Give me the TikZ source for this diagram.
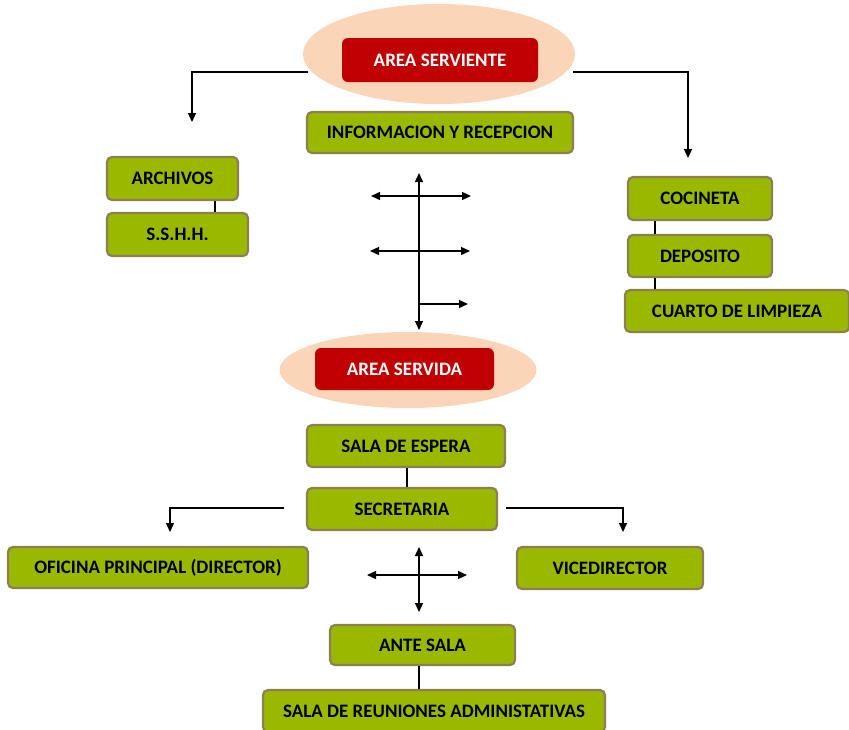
\documentclass[tikz,border=0pt]{standalone}
\usepackage{fontspec}
\setmainfont{Carlito}
\usetikzlibrary{arrows.meta,shapes.geometric}
\definecolor{leaf}{HTML}{9BB800}
\definecolor{leafedge}{HTML}{8C7F52}
\definecolor{zone}{HTML}{C00000}
\definecolor{halo}{HTML}{FBD5B7}
\tikzset{
  room/.style={draw=leafedge, line width=2.2pt, fill=leaf, rounded corners=5pt,
    inner sep=0pt, font=\fontsize{19}{19}\selectfont\bfseries, text=black},
  zonebox/.style={fill=zone, rounded corners=6pt, inner sep=0pt,
    font=\fontsize{19}{19}\selectfont\bfseries, text=white},
  haloshape/.style={ellipse, fill=halo, inner sep=0pt},
  flow/.style={line width=1.3pt, -{Triangle[width=8pt,length=9pt]}},
  link/.style={line width=1.3pt},
  both/.style={line width=1.3pt, {Triangle[width=8pt,length=9pt]}-{Triangle[width=8pt,length=9pt]}}
}
\begin{document}
\begin{tikzpicture}[x=1pt,y=-1pt]
\useasboundingbox (0,0) rectangle (849,729);

% upper zone
\node[haloshape, minimum width=272pt, minimum height=100pt] (serv) at (439,54) {};
\node[zonebox, minimum width=196pt, minimum height=44pt] (servR) at (440,60) {AREA SERVIENTE};
\node[room, minimum width=266pt, minimum height=41pt] (info) at (440,132.5) {INFORMACION Y RECEPCION};

\node[room, minimum width=131pt, minimum height=43pt] (arch) at (172.5,178.5) {ARCHIVOS};
\node[room, minimum width=141pt, minimum height=43pt] (sshh) at (177.5,234.5) {S.S.H.H.};

\node[room, minimum width=144pt, minimum height=43pt] (coc) at (700,198.5) {COCINETA};
\node[room, minimum width=144pt, minimum height=42pt] (dep) at (700,256) {DEPOSITO};
\node[room, minimum width=224pt, minimum height=42pt] (limp) at (737,311) {CUARTO DE LIMPIEZA};

% branches out of the upper zone
\coordinate (sl) at (308,72);
\coordinate (slend) at (192,122);
\coordinate (sr) at (573,72);
\coordinate (srend) at (688,158);
\draw[flow] (sl) -| (slend);
\draw[flow] (sr) -| (srend);

\draw[link] (arch.south -| 215,0) -- (sshh.north -| 215,0);
\draw[link] (coc.south -| 655,0) -- (dep.north -| 655,0);
\draw[link] (dep.south -| 655,0) -- (limp.north -| 655,0);

% circulation cross
\coordinate (vt) at (419,173);
\coordinate (vb) at (419,330);
\coordinate (h1l) at (371,196);
\coordinate (h1r) at (471,196);
\coordinate (h2l) at (370,251);
\coordinate (h2r) at (470,251);
\coordinate (h3l) at (419,304);
\coordinate (h3r) at (468,304);
\draw[both] (vt) -- (vb);
\draw[both] (h1l) -- (h1r);
\draw[both] (h2l) -- (h2r);
\draw[flow] (h3l) -- (h3r);

% lower zone
\node[haloshape, minimum width=257pt, minimum height=76pt] (servida) at (408,370) {};
\node[zonebox, minimum width=179pt, minimum height=42pt] (servidaR) at (404.5,369) {AREA SERVIDA};
\node[room, minimum width=198pt, minimum height=42pt] (esp) at (406,446) {SALA DE ESPERA};
\node[room, minimum width=190pt, minimum height=42pt] (sec) at (402,509) {SECRETARIA};
\draw[link] (esp.south -| 407,0) -- (sec.north -| 407,0);

\node[room, minimum width=300pt, minimum height=41pt] (ofi) at (158,567.5) {OFICINA PRINCIPAL (DIRECTOR)};
\node[room, minimum width=186pt, minimum height=42pt] (vice) at (610,568) {VICEDIRECTOR};

\coordinate (ll) at (284,508);
\coordinate (llend) at (170,532);
\coordinate (rr) at (506,508);
\coordinate (rrend) at (623,532);
\draw[flow] (ll) -| (llend);
\draw[flow] (rr) -| (rrend);

\coordinate (cvt) at (419,547);
\coordinate (cvb) at (419,612);
\coordinate (chl) at (367,575);
\coordinate (chr) at (467,575);
\draw[both] (cvt) -- (cvb);
\draw[both] (chl) -- (chr);

\node[room, minimum width=185pt, minimum height=40pt] (ante) at (422.5,645) {ANTE SALA};
\node[room, minimum width=342pt, minimum height=42pt] (reu) at (434,711) {SALA DE REUNIONES ADMINISTATIVAS};
\draw[link] (ante.south -| 419,0) -- (reu.north -| 419,0);
\end{tikzpicture}
\end{document}
